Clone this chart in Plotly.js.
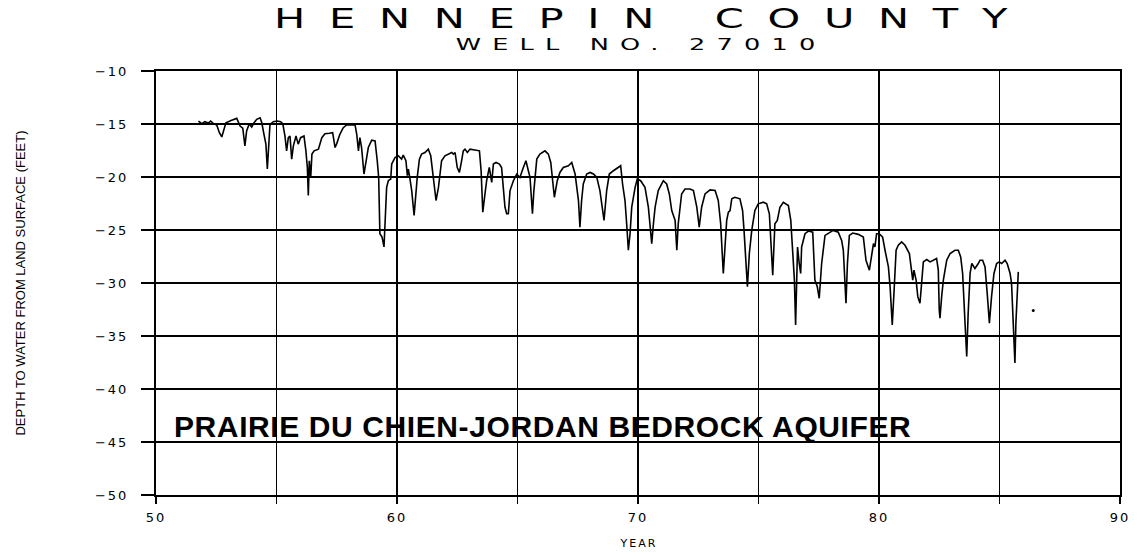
<!DOCTYPE html>
<html>
<head>
<meta charset="utf-8">
<script src="https://cdn.plot.ly/plotly-3.0.1.min.js"></script>
<style>
  html, body { margin: 0; padding: 0; background: #fff; }
  #chart { width: 1141px; height: 556px; }
  .xtick text, .ytick text { letter-spacing: 2px; }
  .gtitle, g.annotation[data-index="0"] text.annotation-text {
    transform-box: fill-box; transform-origin: center; transform: scaleX(1.6);
  }
</style>
</head>
<body>
<div id="chart"></div>
<script>
// Year (19xx) of each reading
const years = [
  51.76,51.90,52.03,52.17,52.27,52.38,52.52,52.63,52.73,52.82,52.90,53.14,53.35,53.49,53.60,53.69,53.76,53.87,53.97,54.07,
  54.18,54.32,54.39,54.48,54.56,54.62,54.69,54.73,54.87,55.03,55.17,55.26,55.35,55.42,55.49,55.56,55.63,55.70,55.81,55.90,
  56.00,56.14,56.22,56.28,56.32,56.36,56.42,56.47,56.56,56.74,56.88,57.01,57.19,57.33,57.43,57.50,57.63,57.77,57.91,58.26,
  58.33,58.40,58.46,58.53,58.63,58.71,58.81,58.95,59.09,59.18,59.24,59.29,59.38,59.46,
  59.57,59.64,59.74,59.78,59.92,60.05,60.19,60.26,60.37,60.43,60.47,60.54,60.61,60.71,60.79,60.84,60.93,61.02,61.16,61.30,
  61.40,61.51,61.62,61.72,61.78,61.85,61.99,62.13,62.27,62.34,62.41,62.50,62.59,62.68,62.75,62.82,62.92,63.03,63.24,63.42,
  63.49,63.56,63.65,63.72,63.83,63.93,64.00,64.11,64.25,64.34,64.41,64.48,64.55,64.62,64.69,64.83,64.97,65.10,65.22,65.35,
  65.45,65.52,65.62,65.68,65.80,65.93,66.14,66.28,66.38,66.46,66.53,
  66.65,66.76,66.90,67.11,67.25,67.32,67.39,67.53,67.59,67.66,67.73,67.87,68.01,68.15,68.29,68.42,68.53,68.59,68.70,68.81,
  68.98,69.18,69.28,69.36,69.46,69.53,69.60,69.67,69.74,69.88,69.97,70.11,70.29,70.43,70.50,70.57,70.64,70.71,70.84,71.05,
  71.19,71.30,71.40,71.54,71.61,71.67,71.81,71.95,72.16,72.30,72.44,72.54,72.64,72.78,72.99,73.20,73.33,73.43,73.54,73.61,
  73.68,73.75,73.82,73.89,74.02,74.23,74.34,74.40,74.48,74.54,
  74.62,74.72,74.85,74.99,75.20,75.34,75.45,75.51,75.59,75.64,75.68,75.78,75.89,76.03,76.24,76.34,76.42,76.49,76.54,76.58,
  76.62,76.69,76.75,76.79,76.93,77.07,77.25,77.34,77.44,77.52,77.62,77.76,77.97,78.10,78.31,78.45,78.52,78.59,78.63,78.69,
  78.77,78.91,79.14,79.35,79.46,79.60,79.70,79.77,79.83,79.90,80.01,80.15,80.25,80.39,80.46,80.55,80.62,80.71,80.80,80.94,
  81.08,81.26,81.40,81.45,81.54,81.61,81.70,
  81.77,81.84,81.98,82.12,82.39,82.46,82.50,82.53,82.60,82.67,82.81,82.95,83.15,83.29,83.39,83.47,83.57,83.64,83.70,83.78,
  83.85,83.98,84.12,84.19,84.30,84.40,84.49,84.58,84.67,84.77,84.88,84.99,85.09,85.23,85.32,85.44,85.50,85.56,85.64,85.68,
  85.74,85.78
];
// Depth to water from land surface (feet)
const depthFt = [
  -14.72,-14.97,-14.78,-14.91,-14.72,-14.97,-15.09,-15.82,-16.22,-15.35,-14.88,-14.65,-14.47,-15.19,-15.40,-17.06,-15.66,-14.97,-15.28,-14.88,
  -14.56,-14.41,-14.88,-15.97,-16.90,-19.25,-16.90,-15.03,-14.78,-14.72,-14.78,-14.97,-16.13,-17.53,-16.29,-16.13,-18.31,-17.06,-16.13,-16.90,
  -16.29,-16.13,-17.53,-19.10,-21.75,-18.47,-20.04,-17.84,-17.53,-17.37,-16.29,-15.91,-15.87,-15.82,-17.22,-16.85,-15.97,-15.35,-15.09,-15.09,
  -15.97,-17.53,-16.29,-17.22,-19.72,-18.47,-17.22,-16.53,-16.59,-18.47,-20.04,-25.35,-25.67,-26.60,
  -20.98,-20.35,-20.19,-18.78,-18.16,-18.00,-18.31,-17.94,-18.47,-19.88,-19.25,-20.19,-21.28,-23.63,-20.98,-20.04,-18.31,-17.84,-17.69,-17.37,
  -18.00,-20.04,-22.22,-20.98,-20.04,-18.47,-18.00,-17.84,-17.69,-17.84,-17.69,-19.10,-19.57,-18.47,-17.53,-17.37,-17.69,-17.37,-17.47,-17.53,
  -19.41,-23.32,-21.60,-20.35,-19.10,-20.51,-18.78,-18.63,-18.78,-19.10,-20.98,-22.85,-23.47,-23.47,-21.28,-20.35,-19.72,-20.04,-19.25,-18.47,
  -19.41,-20.04,-23.47,-21.28,-18.31,-17.84,-17.53,-17.84,-18.63,-20.35,-21.91,
  -20.35,-19.57,-19.10,-18.94,-18.63,-19.10,-19.72,-22.22,-24.73,-22.22,-20.66,-19.72,-19.57,-19.72,-20.04,-21.28,-22.85,-24.10,-21.28,-19.72,
  -19.41,-19.10,-18.94,-20.66,-22.22,-24.41,-26.91,-25.35,-22.85,-20.98,-20.19,-20.35,-20.98,-22.85,-24.73,-26.29,-24.41,-22.85,-21.28,-20.35,
  -20.66,-21.60,-23.16,-24.10,-26.91,-24.41,-21.60,-21.13,-21.13,-21.28,-22.85,-24.73,-22.85,-21.60,-21.22,-21.28,-22.22,-24.41,-29.10,-25.98,
  -24.10,-23.32,-23.16,-22.06,-21.91,-22.06,-23.16,-25.04,-27.85,-30.36,
  -27.22,-25.04,-23.16,-22.53,-22.38,-22.53,-23.47,-25.98,-29.26,-26.60,-24.41,-24.10,-22.85,-22.38,-22.69,-24.10,-26.60,-29.73,-33.95,-29.73,
  -26.60,-28.16,-29.10,-26.60,-25.35,-25.10,-25.20,-29.73,-30.36,-31.44,-28.16,-25.51,-25.20,-25.04,-25.20,-25.98,-26.91,-29.73,-31.91,-28.16,
  -25.51,-25.29,-25.41,-25.67,-27.85,-28.79,-27.22,-26.29,-26.60,-25.35,-25.35,-25.67,-26.91,-28.48,-30.36,-33.95,-30.98,-26.91,-26.44,-26.13,
  -26.44,-27.22,-29.73,-28.79,-29.73,-31.29,-31.91,
  -30.04,-28.01,-27.79,-28.01,-27.69,-28.79,-32.54,-33.32,-31.29,-29.73,-27.85,-27.22,-26.91,-26.91,-27.54,-29.10,-33.79,-36.92,-32.85,-29.10,
  -28.16,-28.63,-28.16,-27.85,-27.85,-28.48,-30.98,-33.79,-31.29,-29.10,-28.16,-28.01,-28.16,-27.85,-28.16,-29.10,-30.04,-33.17,-37.54,-33.79,
  -30.04,-28.95
];
// isolated mark to the right of the record
const strayYear = [86.4];
const strayDepth = [-32.6];

const xTickVals = [50,55,60,65,70,75,80,85,90];
const xTickText = ["50","","60","","70","","80","","90"];
const yTickVals = [-50,-45,-40,-35,-30,-25,-20,-15,-10];
const yTickText = ["\u221250","\u221245","\u221240","\u221235","\u221230","\u221225","\u221220","\u221215","\u221210"];

const titleText = "HENNEPIN COUNTY";
const subtitleText = "WELL NO. 27010";
const aquiferText = "PRAIRIE DU CHIEN-JORDAN BEDROCK AQUIFER";

function spaced(s, px) {
  return '<span style="letter-spacing:' + px + 'px">' + s.slice(0, -1) + '</span>' + s.slice(-1);
}

const traces = [
  { x: years, y: depthFt, type: 'scatter', mode: 'lines',
    line: { color: '#000', width: 1.6 }, hoverinfo: 'skip' },
  { x: strayYear, y: strayDepth, type: 'scatter', mode: 'markers',
    marker: { color: '#000', size: 3 }, hoverinfo: 'skip' }
];

const axisCommon = {
  showgrid: true, gridcolor: '#000', gridwidth: 1.3,
  showline: true, linecolor: '#000', linewidth: 2, mirror: true,
  zeroline: false, ticks: 'outside', tickcolor: '#000', tickwidth: 1.5,
  tickfont: { family: 'DejaVu Sans', size: 13, color: '#000' },
  tickmode: 'array', fixedrange: true
};

const layout = {
  width: 1141, height: 556,
  margin: { l: 156, r: 21, t: 71, b: 61 },
  paper_bgcolor: '#fff', plot_bgcolor: '#fff',
  showlegend: false,
  title: {
    text: spaced(titleText, 14.8),
    font: { family: 'DejaVu Sans', size: 26, color: '#000' },
    xref: 'paper', x: 0.503, xanchor: 'center',
    yref: 'container', y: 1 - 19/556, yanchor: 'middle'
  },
  xaxis: Object.assign({}, axisCommon, {
    range: [50, 90], tickvals: xTickVals, ticktext: xTickText,
    ticklen: 7, ticklabelstandoff: 2,
    title: { text: spaced('YEAR', 2), font: { family: 'DejaVu Sans', size: 11, color: '#000' }, standoff: 16 }
  }),
  yaxis: Object.assign({}, axisCommon, {
    range: [-50, -10], tickvals: yTickVals, ticktext: yTickText,
    ticklen: 13, ticklabelstandoff: 10,
    title: { text: 'DEPTH TO WATER FROM LAND SURFACE (FEET)',
      font: { family: 'Liberation Sans, sans-serif', size: 13, color: '#000' }, standoff: 66 }
  }),
  annotations: [
    { text: spaced(subtitleText, 7), xref: 'paper', yref: 'paper',
      x: 0.497, y: 1 + 26/424, xanchor: 'center', yanchor: 'middle', showarrow: false,
      font: { family: 'DejaVu Sans', size: 16, color: '#000' } },
    { text: '<span style="letter-spacing:0.6px">' + aquiferText + '</span>', xref: 'x', yref: 'y', x: 50.66, y: -45.3,
      xanchor: 'left', yanchor: 'bottom', showarrow: false,
      font: { family: 'Liberation Sans', size: 30, weight: 'bold', color: '#000' } }
  ]
};

Plotly.newPlot('chart', traces, layout, { staticPlot: true, displayModeBar: false });
</script>
</body>
</html>
